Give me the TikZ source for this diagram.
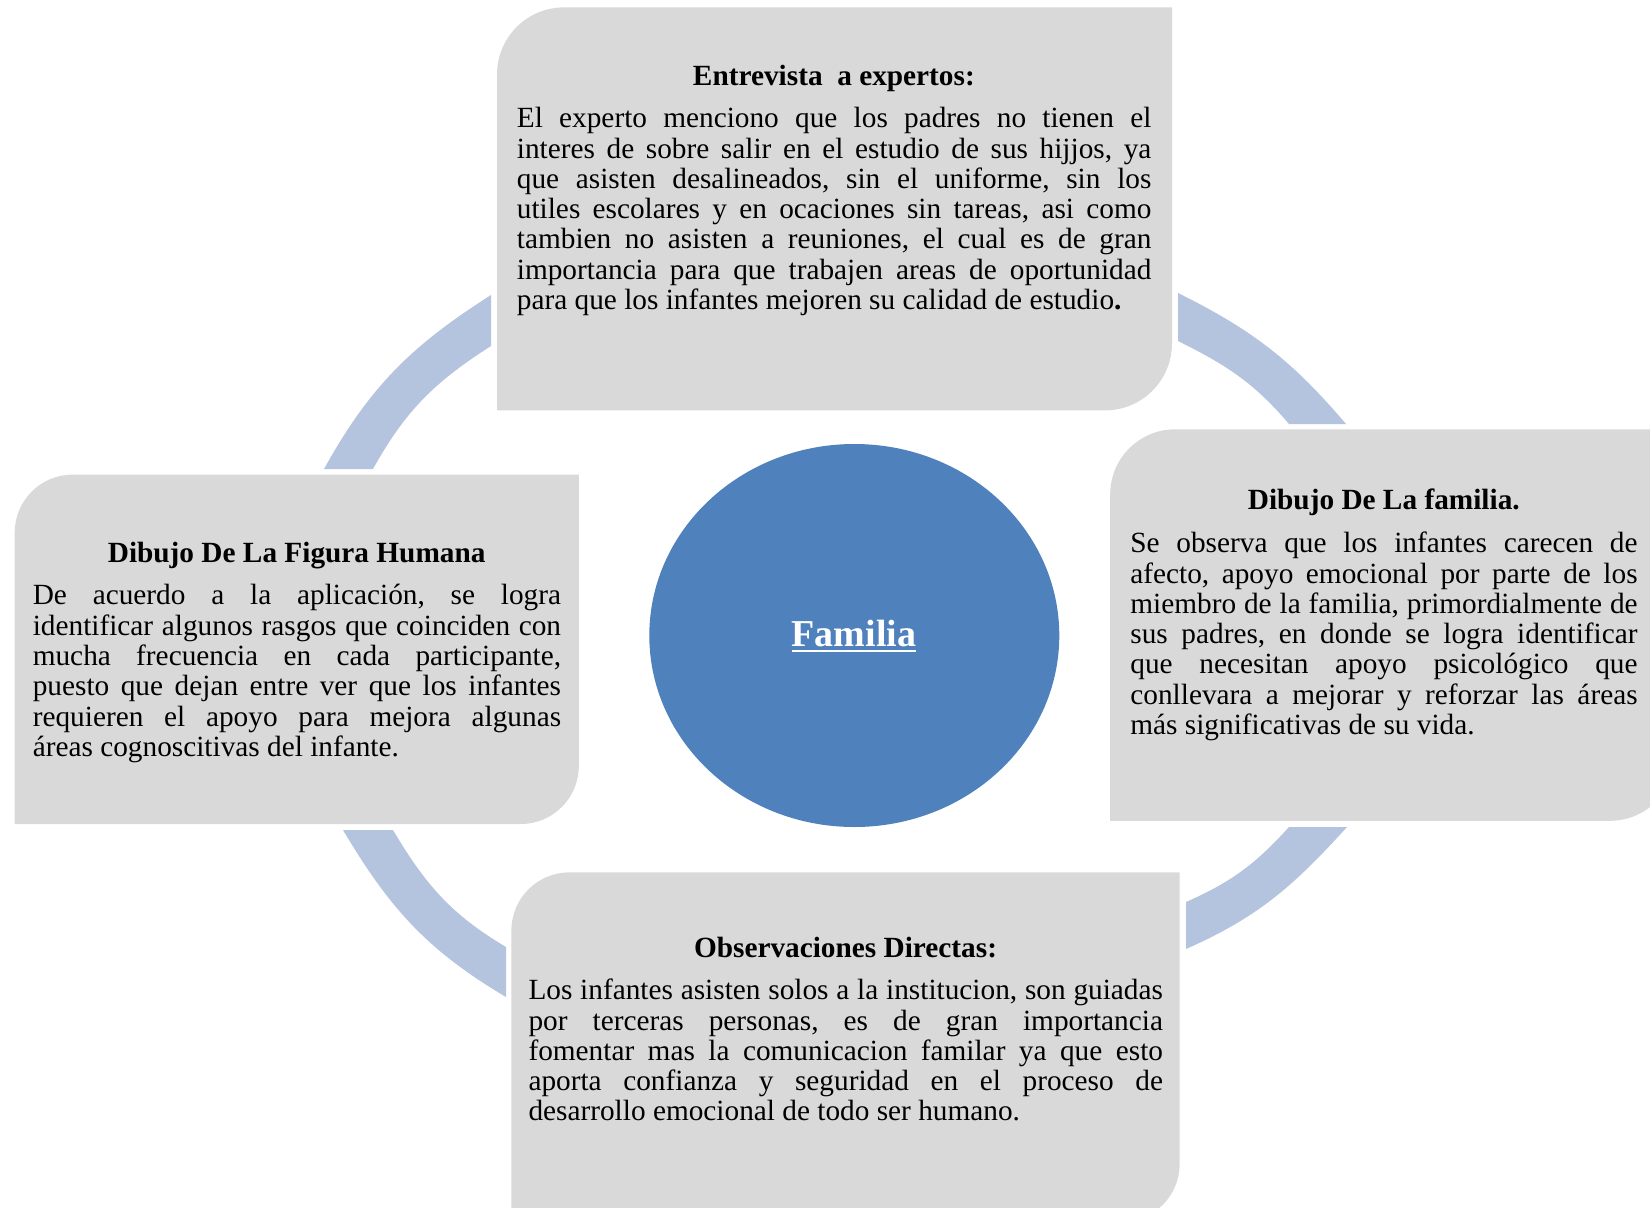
\documentclass[tikz,border=0pt]{standalone}
\usepackage{fontspec}
\setmainfont{Liberation Serif}
\usetikzlibrary{shapes.geometric}
\definecolor{boxgray}{HTML}{D9D9D9}
\definecolor{ringblue}{HTML}{B4C3DE}
\definecolor{hubblue}{HTML}{4F81BD}
\newcommand{\jl}[1]{\makebox[\hsize][s]{#1}}
\newcommand{\normsp}{\spaceskip=0pt\xspaceskip=0pt\relax}
\begin{document}
\begin{tikzpicture}[x=1pt,y=1pt,
  band/.style={fill=ringblue},
  card/.style={fill=boxgray},
  title/.style={font=\fontsize{29.3}{30.3}\selectfont\bfseries\frenchspacing, inner sep=0, anchor=base},
  body/.style={font=\fontsize{29.3}{30.3}\selectfont\frenchspacing, inner sep=0, anchor=north west, align=justify},
]
\useasboundingbox (0,0) rectangle (1650,-1208);
\clip (0,0) rectangle (1650,-1208);

% ring segments
\fill[band] (324,-469) to[out=61,in=212.5] (491,-295) -- (491,-346) to[out=212.5,in=61] (373,-469) -- cycle;
\fill[band] (1178,-293) to[out=-26.4,in=130.4] (1346,-424) -- (1289,-424) to[out=130.4,in=-26.4] (1178,-341) -- cycle;
\fill[band] (1347,-827) to[out=227.8,in=23.8] (1186,-949) -- (1186,-902) to[out=23.8,in=227.8] (1289,-827) -- cycle;
\fill[band] (343,-830) to[out=-59.3,in=149.3] (506,-997) -- (506,-947) to[out=149.3,in=-59.3] (393,-830) -- cycle;

% cards
\fill[card] (497,-410.4) -- (497,-74.4) arc[start angle=180,end angle=90,radius=67] -- (1172,-7.4) -- (1172,-343.4) arc[start angle=0,end angle=-90,radius=67] -- cycle;
\fill[card] (14.7,-824) -- (14.7,-532.6) arc[start angle=180,end angle=90,radius=58] -- (578.8,-474.6) -- (578.8,-766) arc[start angle=0,end angle=-90,radius=58] -- cycle;
\fill[card] (1110.2,-820.8) -- (1110.2,-494.3) arc[start angle=180,end angle=90,radius=65] -- (1675,-429.3) -- (1675,-755.8) arc[start angle=0,end angle=-90,radius=65] -- cycle;
\fill[card] (511.4,-1222) -- (511.4,-930.4) arc[start angle=180,end angle=90,radius=58] -- (1179.6,-872.4) -- (1179.6,-1164) arc[start angle=0,end angle=-90,radius=58] -- cycle;

% hub
\node[ellipse, fill=hubblue, minimum width=410pt, minimum height=383pt, inner sep=0] (hub) at (854.3,-635.5) {};
\node[font=\fontsize{38}{40}\selectfont\bfseries, text=white, inner sep=0, anchor=base] (famtext) at (854,-646) {Familia};
\draw[white, line width=2.6pt] ([yshift=-4.8pt]famtext.base west) -- ([yshift=-4.8pt]famtext.base east);

% titles
\node[title] (t1) at (833.9,-85) {Entrevista\ \ a expertos:};
\node[title] (t2) at (296.7,-562.3) {Dibujo De La Figura Humana};
\node[title] (t3) at (1383.8,-509) {Dibujo De La familia.};
\node[title] (t4) at (845.5,-957.3) {Observaciones Directas:};

% bodies
\node[body, text width=634.5pt] (b1) at (516.7,-106.3) {\normsp\strut\jl{El experto menciono que los padres no tienen el}\\
\jl{interes de sobre salir en el estudio de sus hijjos, ya}\\
\jl{que asisten desalineados, sin el uniforme, sin los}\\
\jl{utiles escolares y en ocaciones sin tareas, asi como}\\
\jl{tambien no asisten a reuniones, el cual es de gran}\\
\jl{importancia para que trabajen areas de oportunidad}\\
para que los infantes mejoren su calidad de estudio\textbf{.}};

\node[body, text width=528.3pt] (b2) at (32.6,-583.5) {\normsp\strut\jl{De acuerdo a la aplicación, se logra}\\
\jl{identificar algunos rasgos que coinciden con}\\
\jl{mucha frecuencia en cada participante,}\\
\jl{puesto que dejan entre ver que los infantes}\\
\jl{requieren el apoyo para mejora algunas}\\
áreas cognoscitivas del infante.};

\node[body, text width=507.2pt] (b3) at (1130.2,-531.3) {\normsp\strut\jl{Se observa que los infantes carecen de}\\
\jl{afecto, apoyo emocional por parte de los}\\
\jl{miembro de la familia, primordialmente de}\\
\jl{sus padres, en donde se logra identificar}\\
\jl{que necesitan apoyo psicológico que}\\
\jl{conllevara a mejorar y reforzar las áreas}\\
más significativas de su vida.};

\node[body, text width=634.5pt] (b4) at (528.3,-978.3) {\normsp\strut\jl{Los infantes asisten solos a la institucion, son guiadas}\\
\jl{por terceras personas, es de gran importancia}\\
\jl{fomentar mas la comunicacion familar ya que esto}\\
\jl{aporta confianza y seguridad en el proceso de}\\
desarrollo emocional de todo ser humano.};
\end{tikzpicture}
\end{document}
